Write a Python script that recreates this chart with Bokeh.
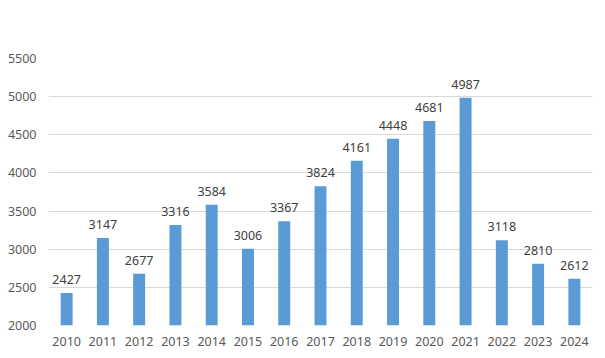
from bokeh.plotting import figure
from bokeh.models import ColumnDataSource, Range1d, FactorRange, LabelSet
from bokeh.core.properties import value
from bokeh.embed import file_html
from bokeh.resources import INLINE

years = ["2010", "2011", "2012", "2013", "2014", "2015", "2016", "2017",
         "2018", "2019", "2020", "2021", "2022", "2023", "2024"]
values = [2427, 3147, 2677, 3316, 3584, 3006, 3367, 3824,
          4161, 4448, 4681, 4987, 3118, 2810, 2612]
y_ticks = [2000, 2500, 3000, 3500, 4000, 4500, 5000, 5500]

FONT = "Noto Sans"

src = ColumnDataSource(dict(x=years, y=values, lbl=[str(v) for v in values]))

p = figure(width=597, height=350, output_backend="svg", toolbar_location=None,
           x_range=FactorRange(*years, range_padding=0), y_range=Range1d(2000, 5500))
p.min_border_left = 48
p.min_border_right = 5
p.min_border_top = 58
p.min_border_bottom = 25
p.outline_line_color = None
p.background_fill_color = "white"
p.border_fill_color = "white"

p.vbar(x="x", top="y", bottom=2000, width=0.33, source=src,
       fill_color="#5b9bd5", line_color=None)

labels = LabelSet(x="x", y="y", text="lbl", source=src, text_align="center",
                  text_baseline="bottom", y_offset=9, text_font=value(FONT),
                  text_font_size="12.5px", text_color="#404040")
p.add_layout(labels)

p.xgrid.grid_line_color = None
p.ygrid.grid_line_color = "#d9d9d9"
p.ygrid.ticker = y_ticks

p.yaxis.ticker = y_ticks
p.yaxis.axis_line_color = None
p.yaxis.major_tick_line_color = None
p.yaxis.minor_tick_line_color = None
p.yaxis.major_label_standoff = 6
p.yaxis.major_label_text_font = FONT
p.yaxis.major_label_text_font_size = "12.5px"
p.yaxis.major_label_text_color = "#595959"

p.xaxis.axis_line_color = None
p.xaxis.major_tick_line_color = None
p.xaxis.minor_tick_line_color = None
p.xaxis.major_label_standoff = 5
p.xaxis.major_label_text_font = FONT
p.xaxis.major_label_text_font_size = "12.5px"
p.xaxis.major_label_text_color = "#595959"

open("out.html", "w").write(file_html(p, INLINE))
